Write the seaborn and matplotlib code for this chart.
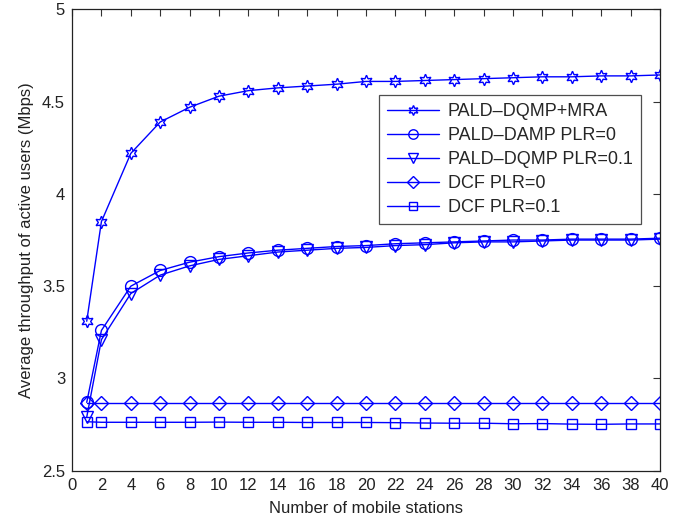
import matplotlib
matplotlib.use("Agg")
import matplotlib.pyplot as plt
import seaborn as sns
import pandas as pd

sns.set_style("white")
plt.rcParams["font.family"] = ["Liberation Sans", "DejaVu Sans"]

stations = [1, 2, 4, 6, 8, 10, 12, 14, 16, 18, 20, 22, 24, 26, 28, 30, 32, 34, 36, 38, 40]

pald_mra = [3.31, 3.85, 4.22, 4.39, 4.47, 4.53, 4.56, 4.575, 4.585, 4.595, 4.61,
            4.61, 4.615, 4.62, 4.625, 4.63, 4.635, 4.635, 4.64, 4.64, 4.645]
pald_plr0 = [2.87, 3.26, 3.50, 3.585, 3.63, 3.66, 3.68, 3.695, 3.705, 3.715, 3.72,
             3.73, 3.735, 3.74, 3.745, 3.75, 3.75, 3.755, 3.755, 3.755, 3.76]
pald_plr01 = [2.79, 3.21, 3.46, 3.56, 3.61, 3.645, 3.665, 3.685, 3.695, 3.705, 3.71,
              3.72, 3.725, 3.735, 3.74, 3.74, 3.745, 3.75, 3.75, 3.75, 3.755]
dcf_plr0 = [2.865] * 21
dcf_plr01 = [2.765, 2.762, 2.762, 2.762, 2.762, 2.763, 2.762, 2.762, 2.761, 2.761, 2.761,
             2.760, 2.758, 2.757, 2.757, 2.754, 2.755, 2.752, 2.751, 2.753, 2.753]

labels = ["PALD–DQMP+MRA", "PALD–DAMP PLR=0", "PALD–DQMP PLR=0.1",
          "DCF PLR=0", "DCF PLR=0.1"]
series = [pald_mra, pald_plr0, pald_plr01, dcf_plr0, dcf_plr01]
markers = [(6, 1, 0), "o", "v", "D", "s"]
sizes = [9, 8.5, 8.5, 7.5, 6.5]

fig = plt.figure(figsize=(6.86, 5.27), dpi=100)
ax = fig.add_axes([0.105, 0.107, 0.857, 0.875])

for lab, vals, mk, ms in zip(labels, series, markers, sizes):
    df = pd.DataFrame({"x": stations, "y": vals})
    sns.lineplot(data=df, x="x", y="y", ax=ax, color="#0000ff", lw=1.0,
                 marker=mk, markersize=ms, mfc="none", mec="#0000ff", mew=1.0,
                 label=lab)

ax.set_xlim(0, 40)
ax.set_ylim(2.5, 5)
ax.set_xticks(range(0, 41, 2))
ax.set_yticks([2.5, 3, 3.5, 4, 4.5, 5])
ax.set_yticklabels(["2.5", "3", "3.5", "4", "4.5", "5"])
ax.tick_params(direction="in", top=True, right=True, length=5, width=0.8,
               labelsize=12, colors="#333333", labelcolor="#222222", pad=5)
for s in ax.spines.values():
    s.set_color("#222222")
    s.set_linewidth(0.9)
ax.set_xlabel("Number of mobile stations", fontsize=12, color="#222222", labelpad=6)
ax.set_ylabel("Average throughput of active users (Mbps)", fontsize=12, color="#222222",
              labelpad=6)

leg = ax.legend(loc="upper left", bbox_to_anchor=(0.522, 0.814), fontsize=13,
                handlelength=2.9, frameon=True, fancybox=False, borderpad=0.45,
                labelspacing=0.38, handletextpad=0.45, borderaxespad=0,
                markerscale=0.8)
leg.get_frame().set_edgecolor("#222222")
leg.get_frame().set_linewidth(0.9)

fig.savefig("out.png", dpi=100)
